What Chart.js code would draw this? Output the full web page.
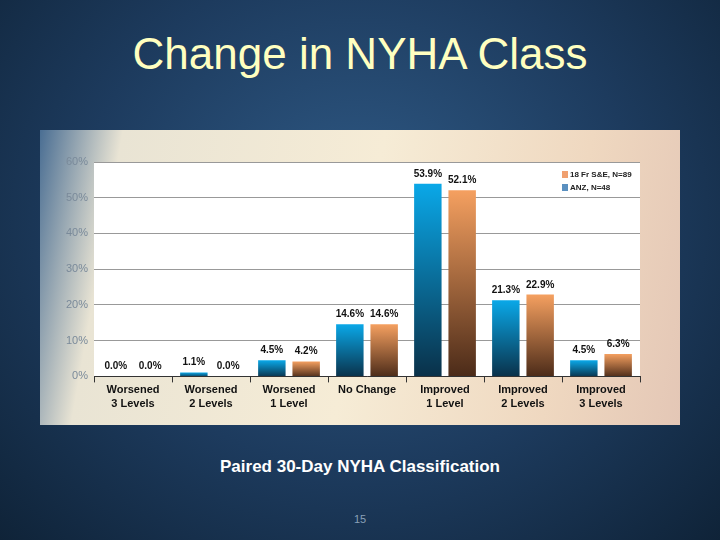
<!DOCTYPE html>
<html><head><meta charset="utf-8">
<script src="https://cdn.jsdelivr.net/npm/chart.js@4"></script>
<style>
body{margin:0;width:720px;height:540px;overflow:hidden;background:radial-gradient(ellipse at 50% 40%,#2f5a86 0%,#1d3b5e 55%,#0f2338 100%);font-family:"Liberation Sans",Arial,sans-serif;position:relative}
#title{position:absolute;top:29px;left:0;width:720px;text-align:center;color:#ffffc0;font-size:44px}
#panel{position:absolute;left:40px;top:130px;width:640px;height:295px;background:linear-gradient(100deg,#4a6e93 0%,#e9e4d4 12%,#f6ecd6 50%,#efd8c0 80%,#e4c7b6 100%)}
#sub{position:absolute;top:457px;left:0;width:720px;text-align:center;color:#fff;font-weight:bold;font-size:17px}
#pg{position:absolute;top:513px;left:0;width:720px;text-align:center;color:#8aa0b8;font-size:11px}
</style></head><body>
<div id="title">Change in NYHA Class</div>
<div id="panel"><canvas id="c" width="640" height="295"></canvas></div>
<div id="sub">Paired 30-Day NYHA Classification</div>
<div id="pg">15</div>
<script>
const categories=[["Worsened","3 Levels"],["Worsened","2 Levels"],["Worsened","1 Level"],["No Change",""],["Improved","1 Level"],["Improved","2 Levels"],["Improved","3 Levels"]];
const anzValues=[0.0,1.1,4.5,14.6,53.9,21.3,4.5];
const sneValues=[0.0,0.0,4.2,14.6,52.1,22.9,6.3];
const anzLabel="ANZ, N=48";
const sneLabel="18 Fr S&E, N=89";
const yTicks=[0,10,20,30,40,50,60];

function grad(top,bot){return ctx=>{const ch=ctx.chart,a=ch.chartArea;if(!a||ctx.raw===undefined)return top;
const yt=ch.scales.y.getPixelForValue(ctx.raw);const g=ch.ctx.createLinearGradient(0,yt,0,a.bottom+1);g.addColorStop(0,top);g.addColorStop(1,bot);return g;};}
const labelsPlugin={id:'lbl',afterDatasetsDraw(ch){const c=ch.ctx;c.save();c.font='bold 10px "Liberation Sans",Arial';c.fillStyle='#111';c.textAlign='center';
ch.data.datasets.forEach((d,i)=>{ch.getDatasetMeta(i).data.forEach((b,j)=>{c.fillText(d.data[j].toFixed(1)+'%',b.x,b.y-7);});});
const a=ch.chartArea;const items=[[sneLabel,'#f0a070'],[anzLabel,'#5a90c0']];c.textAlign='left';c.font='bold 8px "Liberation Sans",Arial';
items.forEach((it,k)=>{const y=a.top+15+k*13;c.fillStyle=it[1];c.fillRect(a.right-78,y-6,6,7);c.fillStyle='#222';c.fillText(it[0],a.right-70,y);});c.restore();}};
new Chart(document.getElementById('c'),{type:'bar',
data:{labels:categories,datasets:[
{label:anzLabel,data:anzValues,backgroundColor:grad('#0aa8e8','#0a3048'),barPercentage:0.8,categoryPercentage:0.88},
{label:sneLabel,data:sneValues,backgroundColor:grad('#f5a060','#4a2a18'),barPercentage:0.8,categoryPercentage:0.88}]},
plugins:[labelsPlugin,{id:'bgp',beforeDraw(ch){const a=ch.chartArea;ch.ctx.save();ch.ctx.fillStyle='#fff';ch.ctx.fillRect(a.left,a.top,a.right-a.left,a.bottom-a.top);ch.ctx.restore();}}],
options:{responsive:false,animation:false,layout:{padding:{top:32,right:40,left:20,bottom:14}},
plugins:{legend:{display:false},tooltip:{enabled:false}},
scales:{x:{grid:{display:true,drawOnChartArea:false,color:'#333',tickLength:6},border:{color:'#333'},ticks:{color:'#111',font:{size:11,weight:'bold',family:'"Liberation Sans",Arial',lineHeight:1.3},padding:0,maxRotation:0}},
y:{min:0,max:60,afterBuildTicks(ax){ax.ticks=yTicks.map(v=>({value:v}));},grid:{color:'#999',drawTicks:false},border:{display:false},
ticks:{color:'#7a8a9a',padding:6,font:{size:11,family:'"Liberation Sans",Arial'},callback:v=>v+'%'}}}}});
</script></body></html>
